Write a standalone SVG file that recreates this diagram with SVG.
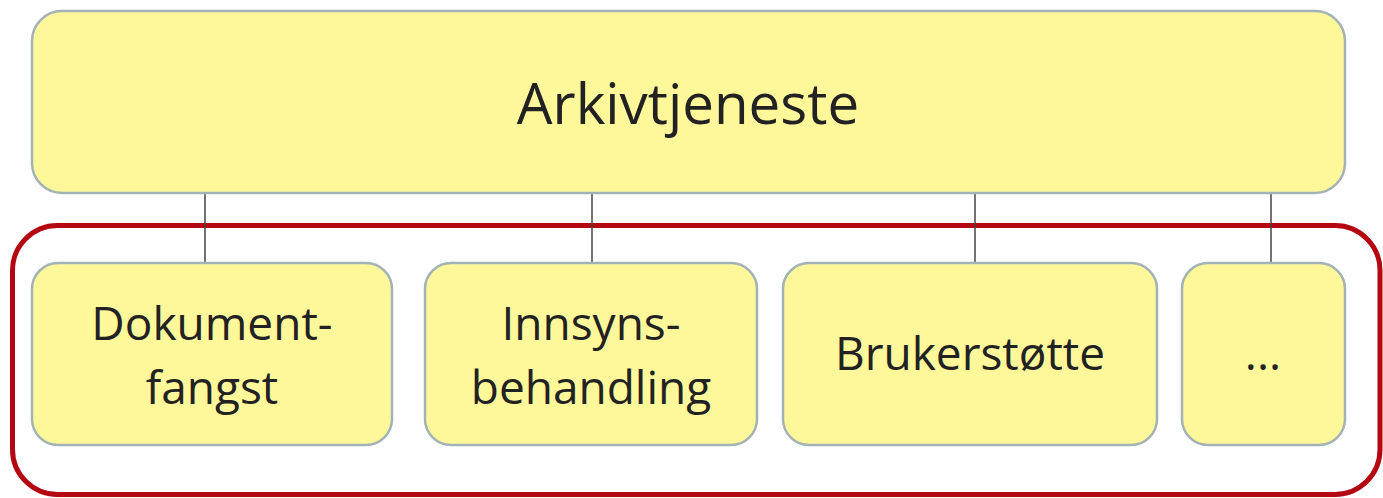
<svg xmlns="http://www.w3.org/2000/svg" width="1383" height="498" viewBox="0 0 1383 498">
<style>
.box{fill:#FFF89B;stroke:#A3B2B5;stroke-width:2.5}
.t{font-family:"Open Sans","Liberation Sans",sans-serif;fill:#222;text-anchor:middle}
.big{font-size:56.5px}
.sm{font-size:46px}
.conn{stroke:#444;stroke-width:1.5;fill:none}
</style>
<rect width="1383" height="498" fill="#fff"/>
<g id="group-frame"><rect x="12.5" y="225.5" width="1367.5" height="269" rx="45" fill="none" stroke="#B30811" stroke-width="5"/></g>
<g id="connectors">
<line class="conn" x1="205" y1="193" x2="205" y2="263"/>
<line class="conn" x1="592" y1="193" x2="592" y2="263"/>
<line class="conn" x1="975" y1="193" x2="975" y2="263"/>
<line class="conn" x1="1271" y1="193" x2="1271" y2="263"/>
</g>
<g id="arkivtjeneste"><rect class="box" x="32" y="11" width="1313" height="182" rx="30"/><text class="t big" x="688" y="124">Arkivtjeneste</text></g>
<g id="dokumentfangst"><rect class="box" x="32" y="263" width="360" height="182" rx="26"/><text class="t sm" x="212" y="340">Dokument-</text><text class="t sm" x="212" y="404">fangst</text></g>
<g id="innsynsbehandling"><rect class="box" x="425" y="263" width="332" height="182" rx="26"/><text class="t sm" x="591" y="340">Innsyns-</text><text class="t sm" x="591" y="404">behandling</text></g>
<g id="brukerstotte"><rect class="box" x="783" y="263" width="374" height="182" rx="26"/><text class="t sm" x="970" y="370">Brukerstøtte</text></g>
<g id="more"><rect class="box" x="1182" y="263" width="163" height="182" rx="26"/><text class="t sm" x="1263" y="370">...</text></g>
</svg>
